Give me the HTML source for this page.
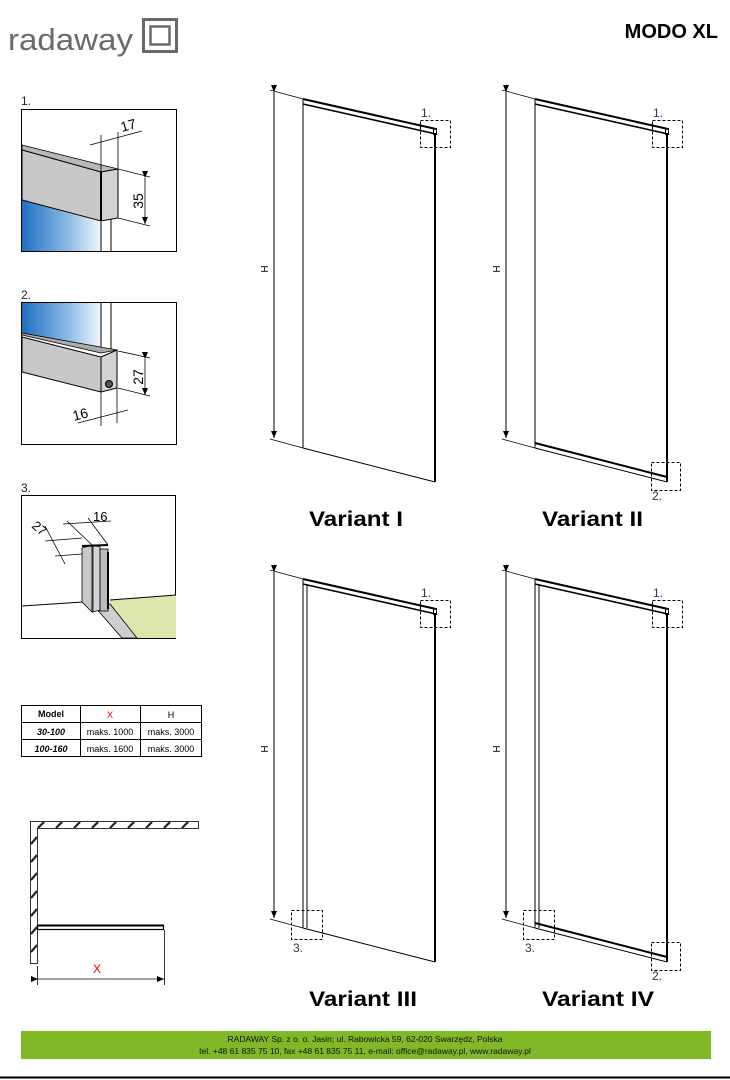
<!DOCTYPE html>
<html><head><meta charset="utf-8"><style>
html,body{margin:0;padding:0;background:#fff;}
svg{display:block;}
text{font-family:"Liberation Sans","DejaVu Sans",sans-serif;}
</style></head><body>
<svg width="730" height="1080" viewBox="0 0 730 1080" xmlns="http://www.w3.org/2000/svg">
<defs>
<linearGradient id="bl" x1="0" x2="1" y1="0" y2="0">
<stop offset="0" stop-color="#1e6fc0"/><stop offset="0.6" stop-color="#8fbde6"/><stop offset="1" stop-color="#f2f7fc"/>
</linearGradient>
<marker id="ar" markerWidth="8" markerHeight="8" refX="7" refY="4" orient="auto" markerUnits="userSpaceOnUse">
<path d="M0,1 L7,4 L0,7 Z" fill="#000"/></marker>
</defs>

<!-- Logo -->
<text x="8" y="50" font-size="31" fill="#6a6a6a" font-family="DejaVu Sans" textLength="125" lengthAdjust="spacingAndGlyphs" style="font-weight:300">radaway</text>
<rect x="143.5" y="19.5" width="33" height="32" fill="none" stroke="#6a6a6a" stroke-width="3"/>
<rect x="150.5" y="26.5" width="19" height="18" fill="none" stroke="#6a6a6a" stroke-width="2.5"/>
<text x="718" y="38" font-size="20" font-weight="bold" text-anchor="end" fill="#000">MODO XL</text>

<!-- Detail 1 -->
<text x="21" y="105" font-size="12" fill="#222">1.</text>
<rect x="21.5" y="109.5" width="155" height="142" fill="#fff" stroke="#000"/>
<polygon points="22,200 101,222 101,251 22,251" fill="url(#bl)"/>
<line x1="101" y1="222" x2="101" y2="251" stroke="#000"/>
<line x1="111" y1="218" x2="111" y2="251" stroke="#000"/>
<polygon points="22,145 118,169 101,172 22,150" fill="#b8b8b8" stroke="#000" stroke-width="0.8"/>
<polygon points="22,150 101,172 101,221 22,200" fill="#c8c8c8" stroke="#000"/>
<polygon points="101,172 118,169 118,218 101,221" fill="#d2d2d2" stroke="#000"/>
<line x1="101" y1="172" x2="101" y2="221" stroke="#000" stroke-width="2"/>
<line x1="101" y1="135" x2="101" y2="172" stroke="#000" stroke-width="0.8"/>
<line x1="118" y1="132" x2="118" y2="169" stroke="#000" stroke-width="0.8"/>
<line x1="90" y1="145" x2="142" y2="131" stroke="#000" stroke-width="0.8"/>
<text x="122" y="132" font-size="14" fill="#000" transform="rotate(-15 122 132)">17</text>
<line x1="118" y1="169" x2="150" y2="177" stroke="#000" stroke-width="0.8"/>
<line x1="118" y1="218" x2="150" y2="226" stroke="#000" stroke-width="0.8"/>
<line x1="145" y1="178" x2="145" y2="224" stroke="#000" stroke-width="0.8" marker-start="url(#ar)" marker-end="url(#ar)"/>
<text x="143" y="201" font-size="14" text-anchor="middle" transform="rotate(-90 143 201)">35</text>

<!-- Detail 2 -->
<text x="21" y="299" font-size="12" fill="#222">2.</text>
<rect x="21.5" y="302.5" width="155" height="142" fill="#fff" stroke="#000"/>
<polygon points="22,303 101,303 101,353 22,335" fill="url(#bl)"/>
<line x1="101" y1="303" x2="101" y2="353" stroke="#000"/>
<line x1="111" y1="303" x2="111" y2="351" stroke="#000"/>
<polygon points="22,335 101,353 117,350 22,333" fill="#aaa" stroke="#000" stroke-width="0.8"/>
<polygon points="22,337 101,357 101,392 22,372" fill="#c8c8c8" stroke="#000"/>
<polygon points="101,357 117,350 117,388 101,392" fill="#d2d2d2" stroke="#000"/>
<circle cx="109" cy="384" r="3.5" fill="#555" stroke="#000"/>
<line x1="101" y1="392" x2="101" y2="426" stroke="#000" stroke-width="0.8"/>
<line x1="117" y1="388" x2="117" y2="423" stroke="#000" stroke-width="0.8"/>
<line x1="78" y1="423" x2="128" y2="410" stroke="#000" stroke-width="0.8"/>
<text x="74" y="421" font-size="14" transform="rotate(-15 74 421)">16</text>
<line x1="118" y1="351" x2="150" y2="358" stroke="#000" stroke-width="0.8"/>
<line x1="118" y1="388" x2="150" y2="396" stroke="#000" stroke-width="0.8"/>
<line x1="145" y1="359" x2="145" y2="395" stroke="#000" stroke-width="0.8" marker-start="url(#ar)" marker-end="url(#ar)"/>
<text x="143" y="377" font-size="14" text-anchor="middle" transform="rotate(-90 143 377)">27</text>

<!-- Detail 3 -->
<text x="21" y="492" font-size="12" fill="#222">3.</text>
<rect x="21.5" y="495.5" width="154" height="143" fill="#fff" stroke="#000"/>
<polygon points="110,600 176,595 176,638 137,638 110,610" fill="#dfe6ac"/>
<polygon points="95,607 110,604 137,638 122,638" fill="#cfcfcf" stroke="#000" stroke-width="0.8"/>
<line x1="22" y1="606" x2="83" y2="602" stroke="#000"/>
<line x1="110" y1="600" x2="176" y2="595" stroke="#000"/>
<polygon points="82,548 92,545 92,612 82,602" fill="#c8c8c8" stroke="#000" stroke-width="0.8"/>
<polygon points="93,545 100,547 100,610 93,612" fill="#d5d5d5" stroke="#000" stroke-width="0.8"/>
<rect x="100" y="549" width="8" height="62" fill="#bbb" stroke="#000" stroke-width="0.8"/>
<line x1="108" y1="552" x2="108" y2="609" stroke="#000" stroke-width="2"/>
<line x1="82" y1="546" x2="108" y2="545" stroke="#000" stroke-width="2"/>
<line x1="45" y1="526" x2="65" y2="564" stroke="#000" stroke-width="0.8"/>
<line x1="45" y1="541" x2="82" y2="538" stroke="#000" stroke-width="0.8"/>
<line x1="55" y1="556" x2="82" y2="554" stroke="#000" stroke-width="0.8"/>
<text x="31" y="527" font-size="13" transform="rotate(40 31 527)">27</text>
<line x1="63" y1="524" x2="111" y2="521" stroke="#000" stroke-width="0.8"/>
<line x1="67" y1="521" x2="92" y2="545" stroke="#000" stroke-width="0.8"/>
<line x1="88" y1="518" x2="108" y2="545" stroke="#000" stroke-width="0.8"/>
<text x="93" y="521" font-size="13">16</text>

<!-- Table -->
<g font-size="9" text-anchor="middle">
<rect x="21.5" y="705.5" width="180" height="51" fill="#fff" stroke="#000"/>
<line x1="21" y1="722.5" x2="202" y2="722.5" stroke="#000"/>
<line x1="21" y1="739.5" x2="202" y2="739.5" stroke="#000"/>
<line x1="80.5" y1="705" x2="80.5" y2="757" stroke="#000"/>
<line x1="140.5" y1="705" x2="140.5" y2="757" stroke="#000"/>
<text x="51" y="717" font-weight="bold">Model</text>
<text x="110" y="718" fill="#e00">X</text>
<text x="171" y="718">H</text>
<text x="51" y="735" font-weight="bold" font-style="italic">30-100</text>
<text x="110" y="735">maks. 1000</text>
<text x="171" y="735">maks. 3000</text>
<text x="51" y="752" font-weight="bold" font-style="italic">100-160</text>
<text x="110" y="752">maks. 1600</text>
<text x="171" y="752">maks. 3000</text>
</g>

<!-- Plan -->
<g stroke="#222" stroke-width="2.2">
<line x1="38" y1="828" x2="44" y2="822"/><line x1="56" y1="828" x2="62" y2="822"/><line x1="74" y1="828" x2="80" y2="822"/><line x1="92" y1="828" x2="98" y2="822"/><line x1="110" y1="828" x2="116" y2="822"/><line x1="128" y1="828" x2="134" y2="822"/><line x1="146" y1="828" x2="152" y2="822"/><line x1="164" y1="828" x2="170" y2="822"/><line x1="182" y1="828" x2="188" y2="822"/>
<line x1="31" y1="844" x2="37" y2="837"/><line x1="31" y1="862" x2="37" y2="855"/><line x1="31" y1="880" x2="37" y2="873"/><line x1="31" y1="898" x2="37" y2="891"/><line x1="31" y1="916" x2="37" y2="909"/><line x1="31" y1="934" x2="37" y2="927"/><line x1="31" y1="952" x2="37" y2="945"/>
</g>
<path d="M30.5,963.5 V821.5 H198.5 V828.5 H37.5 V963.5 Z" fill="none" stroke="#333"/>
<rect x="37.5" y="925.5" width="126" height="4" fill="#fff" stroke="#000" stroke-width="1.2"/>
<line x1="37" y1="925.5" x2="164" y2="925.5" stroke="#000" stroke-width="2"/>
<line x1="164.5" y1="930" x2="164.5" y2="985" stroke="#000" stroke-width="0.8"/>
<line x1="37.5" y1="966" x2="37.5" y2="985" stroke="#000" stroke-width="0.8"/>
<line x1="38" y1="979" x2="164" y2="979" stroke="#000" stroke-width="0.8" marker-start="url(#ar)" marker-end="url(#ar)"/>
<text x="97" y="973" font-size="12" fill="#e00" text-anchor="middle">X</text>

<!-- Panels -->
<g id="p1" fill="none" stroke="#000">
<line x1="270" y1="90" x2="303" y2="99" stroke-width="0.8"/>
<line x1="270" y1="439" x2="303" y2="448" stroke-width="0.8"/>
<line x1="274" y1="92" x2="274" y2="438" stroke-width="1" marker-start="url(#ar)" marker-end="url(#ar)"/>
<text x="268" y="269" font-size="10" fill="#000" stroke="none" text-anchor="middle" transform="rotate(-90 268 269)">H</text>
<line x1="303" y1="99" x2="436" y2="129" stroke-width="2"/>
<line x1="303" y1="104" x2="436" y2="134" stroke-width="1.6"/>
<rect x="433.5" y="128.5" width="3" height="6" stroke-width="1"/>
<line x1="303" y1="99" x2="303" y2="448" stroke-width="1"/>
<line x1="435" y1="134" x2="435" y2="482" stroke-width="2"/>
<line x1="303" y1="448" x2="435" y2="482" stroke-width="1"/>
</g>
<rect x="420.5" y="120.5" width="30" height="27" fill="none" stroke="#000" stroke-dasharray="3,2"/>
<text x="421" y="117" font-size="12" fill="#333">1.</text>

<g transform="translate(232,0)">
<use href="#p1"/>
<line x1="303" y1="443" x2="435" y2="477" stroke="#000" stroke-width="2"/>
<rect x="420.5" y="120.5" width="30" height="27" fill="none" stroke="#000" stroke-dasharray="3,2"/>
<text x="421" y="117" font-size="12" fill="#1a3a8a">1.</text>
<rect x="419.5" y="462.5" width="29" height="28" fill="none" stroke="#000" stroke-dasharray="3,2"/>
<text x="420" y="500" font-size="12" fill="#333">2.</text>
</g>

<g transform="translate(0,480)">
<use href="#p1"/>
<line x1="307" y1="104" x2="307" y2="448" stroke="#000" stroke-width="1"/>
<rect x="420.5" y="120.5" width="30" height="27" fill="none" stroke="#000" stroke-dasharray="3,2"/>
<text x="421" y="117" font-size="12" fill="#333">1.</text>
<rect x="291.5" y="430.5" width="31" height="29" fill="none" stroke="#000" stroke-dasharray="3,2"/>
<text x="293" y="472" font-size="12" fill="#333">3.</text>
</g>

<g transform="translate(232,480)">
<use href="#p1"/>
<line x1="307" y1="104" x2="307" y2="448" stroke="#000" stroke-width="1"/>
<line x1="303" y1="443" x2="435" y2="477" stroke="#000" stroke-width="2"/>
<rect x="420.5" y="120.5" width="30" height="27" fill="none" stroke="#000" stroke-dasharray="3,2"/>
<text x="421" y="117" font-size="12" fill="#1a3a8a">1.</text>
<rect x="419.5" y="462.5" width="29" height="28" fill="none" stroke="#000" stroke-dasharray="3,2"/>
<text x="420" y="500" font-size="12" fill="#333">2.</text>
<rect x="291.5" y="430.5" width="31" height="29" fill="none" stroke="#000" stroke-dasharray="3,2"/>
<text x="293" y="472" font-size="12" fill="#333">3.</text>
</g>

<g font-size="21" font-weight="bold" fill="#000">
<text x="309" y="526" textLength="94" lengthAdjust="spacingAndGlyphs">Variant I</text>
<text x="542" y="526" textLength="101" lengthAdjust="spacingAndGlyphs">Variant II</text>
<text x="309" y="1006" textLength="108" lengthAdjust="spacingAndGlyphs">Variant III</text>
<text x="542" y="1006" textLength="112" lengthAdjust="spacingAndGlyphs">Variant IV</text>
</g>

<!-- Footer -->
<rect x="21" y="1031" width="690" height="28" fill="#80b827"/>
<text x="365" y="1042" font-size="8.5" text-anchor="middle" fill="#111">RADAWAY Sp. z o. o. Jasin; ul. Rabowicka 59, 62-020 Swarzędz, Polska</text>
<text x="365" y="1054" font-size="8.5" text-anchor="middle" fill="#111">tel. +48 61 835 75 10, fax +48 61 835 75 11, e-mail: office@radaway.pl, www.radaway.pl</text>
<line x1="0" y1="1077.5" x2="730" y2="1077.5" stroke="#000" stroke-width="2"/>
</svg>
</body></html>
